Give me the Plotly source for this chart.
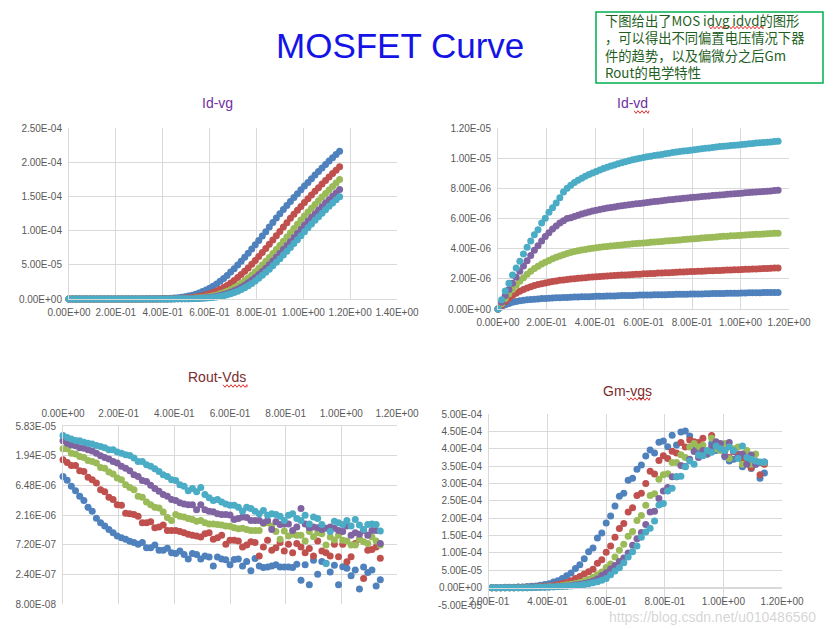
import math
import plotly.graph_objects as go

W, H = 838, 629          # target window
OFF = 8                  # the page body offsets the figure by 8 px
FW, FH = W - OFF, H - OFF
COLORS = ["#4F81BD", "#C0504D", "#9BBB59", "#8064A2", "#4BACC6"]
TICK_FONT = dict(family="Liberation Sans", size=10, color="#595959")
GRID = "#D9D9D9"

STEP = 0.015  # voltage sweep step (V)

# ---------------- Id-vg : Vg = 0 ... 1.155 V, Id in 1e-5 A ----------------
idvg_blue = [0] * 20 + [
    0.01, 0.01, 0.02, 0.02, 0.03, 0.04, 0.05, 0.07, 0.09, 0.12,
    0.16, 0.20, 0.26, 0.34, 0.43, 0.55, 0.70, 0.87, 1.08, 1.31,
    1.57, 1.87, 2.21, 2.59, 3.00, 3.45, 3.93, 4.43, 4.96, 5.52,
    6.10, 6.69, 7.30, 7.93, 8.56, 9.20, 9.85, 10.51, 11.17, 11.83,
    12.48, 13.08, 13.67, 14.25, 14.83, 15.40, 15.96, 16.51, 17.05, 17.59,
    18.12, 18.64, 19.15, 19.66, 20.16, 20.65, 21.13, 21.60]
idvg_red = [0] * 24 + [
    0.01, 0.01, 0.02, 0.02, 0.03, 0.04,
    0.06, 0.08, 0.10, 0.14, 0.17, 0.22, 0.29, 0.37, 0.48, 0.61,
    0.76, 0.95, 1.16, 1.40, 1.67, 1.98, 2.33, 2.71, 3.13, 3.58,
    4.05, 4.55, 5.08, 5.64, 6.20, 6.79, 7.39, 8.00, 8.61, 9.24,
    9.87, 10.51, 11.16, 11.79, 12.40, 12.99, 13.54, 14.10, 14.66, 15.21,
    15.75, 16.28, 16.80, 17.32, 17.83, 18.33, 18.82, 19.32]
idvg_green = [0] * 27 + [
    0.01, 0.01, 0.02,
    0.02, 0.03, 0.04, 0.06, 0.08, 0.10, 0.13, 0.17, 0.22, 0.29,
    0.37, 0.47, 0.59, 0.75, 0.93, 1.14, 1.37, 1.63, 1.94, 2.28,
    2.66, 3.06, 3.51, 3.97, 4.46, 4.98, 5.52, 6.08, 6.65, 7.23,
    7.83, 8.44, 9.05, 9.67, 10.30, 10.93, 11.55, 12.14, 12.71, 13.26,
    13.81, 14.36, 14.90, 15.42, 15.94, 16.46, 16.96, 17.46]
idvg_purple = [0] * 28 + [
    0.01, 0.01,
    0.02, 0.02, 0.03, 0.04, 0.05, 0.06, 0.08, 0.11, 0.15, 0.18,
    0.24, 0.31, 0.39, 0.50, 0.64, 0.79, 0.98, 1.19, 1.43, 1.70,
    2.01, 2.36, 2.73, 3.14, 3.58, 4.03, 4.51, 5.02, 5.55, 6.09,
    6.64, 7.22, 7.79, 8.37, 8.96, 9.56, 10.17, 10.77, 11.36, 11.90,
    12.44, 12.97, 13.50, 14.02, 14.52, 15.02, 15.51, 16.00]
idvg_cyan = [0] * 29 + [
    0.01,
    0.01, 0.02, 0.02, 0.03, 0.04, 0.04, 0.06, 0.08, 0.11, 0.14,
    0.18, 0.23, 0.30, 0.38, 0.48, 0.62, 0.77, 0.95, 1.15, 1.38,
    1.65, 1.94, 2.28, 2.64, 3.04, 3.46, 3.90, 4.36, 4.86, 5.37,
    5.89, 6.42, 6.98, 7.54, 8.10, 8.66, 9.25, 9.84, 10.41, 10.98,
    11.51, 12.03, 12.54, 13.05, 13.55, 14.03, 14.50, 14.96]

# ---------------- Id-vd : Vd = 0 ... 1.155 V, Id in 1e-6 A ----------------
idvd_blue = [
    0, 0.15, 0.28, 0.37, 0.44, 0.50, 0.54, 0.58, 0.61, 0.63,
    0.65, 0.67, 0.69, 0.70, 0.72, 0.73, 0.74, 0.75, 0.76, 0.77,
    0.78, 0.79, 0.80, 0.81, 0.82, 0.82, 0.83, 0.84, 0.85, 0.85,
    0.86, 0.87, 0.87, 0.88, 0.89, 0.89, 0.90, 0.90, 0.91, 0.92,
    0.92, 0.93, 0.93, 0.94, 0.94, 0.95, 0.95, 0.96, 0.96, 0.97,
    0.97, 0.98, 0.98, 0.99, 0.99, 1.00, 1.00, 1.01, 1.01, 1.02,
    1.02, 1.03, 1.03, 1.04, 1.04, 1.05, 1.05, 1.06, 1.06, 1.07,
    1.07, 1.08, 1.08, 1.09, 1.09, 1.10, 1.10, 1.10]
idvd_red = [
    0, 0.25, 0.50, 0.72, 0.90, 1.05, 1.18, 1.30, 1.40, 1.48,
    1.56, 1.62, 1.68, 1.73, 1.78, 1.82, 1.86, 1.90, 1.93, 1.96,
    1.99, 2.01, 2.04, 2.06, 2.08, 2.10, 2.12, 2.14, 2.16, 2.17,
    2.19, 2.20, 2.22, 2.23, 2.25, 2.26, 2.27, 2.29, 2.30, 2.31,
    2.33, 2.34, 2.35, 2.36, 2.38, 2.39, 2.40, 2.41, 2.42, 2.43,
    2.45, 2.46, 2.47, 2.48, 2.49, 2.50, 2.51, 2.52, 2.53, 2.54,
    2.55, 2.56, 2.57, 2.58, 2.59, 2.60, 2.61, 2.62, 2.63, 2.64,
    2.65, 2.66, 2.67, 2.68, 2.69, 2.70, 2.71, 2.72]
idvd_green = [
    0, 0.35, 0.70, 1.00, 1.30, 1.58, 1.84, 2.08, 2.30, 2.50,
    2.68, 2.84, 2.98, 3.10, 3.22, 3.33, 3.43, 3.52, 3.60, 3.68,
    3.75, 3.81, 3.86, 3.91, 3.95, 3.99, 4.03, 4.06, 4.09, 4.12,
    4.15, 4.18, 4.20, 4.23, 4.25, 4.28, 4.30, 4.32, 4.34, 4.36,
    4.38, 4.40, 4.42, 4.44, 4.46, 4.48, 4.50, 4.52, 4.54, 4.56,
    4.58, 4.60, 4.62, 4.64, 4.66, 4.68, 4.70, 4.72, 4.74, 4.76,
    4.78, 4.80, 4.82, 4.83, 4.85, 4.86, 4.88, 4.89, 4.91, 4.92,
    4.94, 4.95, 4.96, 4.98, 4.99, 5.00, 5.02, 5.03]
idvd_purple = [
    0, 0.45, 0.90, 1.30, 1.70, 2.10, 2.50, 2.85, 3.20, 3.55,
    3.90, 4.20, 4.50, 4.80, 5.05, 5.30, 5.50, 5.70, 5.85, 6.00,
    6.05, 6.14, 6.22, 6.30, 6.37, 6.43, 6.49, 6.55, 6.60, 6.65,
    6.69, 6.73, 6.77, 6.81, 6.84, 6.88, 6.91, 6.94, 6.97, 7.00,
    7.03, 7.06, 7.09, 7.12, 7.15, 7.18, 7.21, 7.24, 7.26, 7.29,
    7.31, 7.34, 7.36, 7.39, 7.41, 7.43, 7.46, 7.48, 7.50, 7.52,
    7.54, 7.56, 7.58, 7.60, 7.62, 7.64, 7.66, 7.68, 7.70, 7.72,
    7.74, 7.75, 7.77, 7.79, 7.81, 7.83, 7.85, 7.87]
idvd_cyan = [
    0, 0.62, 1.20, 1.70, 2.26, 2.72, 3.17, 3.65, 4.10, 4.50,
    4.92, 5.25, 5.70, 6.02, 6.42, 6.71, 7.02, 7.37, 7.75, 8.00,
    8.20, 8.38, 8.53, 8.67, 8.80, 8.92, 9.02, 9.12, 9.22, 9.31,
    9.40, 9.48, 9.55, 9.63, 9.70, 9.77, 9.83, 9.89, 9.95, 10.00,
    10.05, 10.09, 10.13, 10.17, 10.21, 10.25, 10.29, 10.33, 10.37, 10.41,
    10.44, 10.47, 10.50, 10.53, 10.56, 10.59, 10.62, 10.65, 10.68, 10.71,
    10.74, 10.77, 10.79, 10.81, 10.84, 10.86, 10.88, 10.90, 10.93, 10.95,
    10.97, 11.00, 11.02, 11.04, 11.06, 11.08, 11.10, 11.12]

# ---------------- Rout-Vds : Vds = 0 ... 1.14 V, values in 1e-7 ----------------
rout_blue = [
    90.1, 78.1, 62.7, 53.2, 43.1, 37.0, 28.7, 24.9, 19.1, 16.2,
    14.4, 12.6, 11.2, 9.9, 9.27, 8.78, 8.2, 7.78, 7.28, 7.78,
    6.45, 6.45, 7.13, 5.84, 5.84, 6.32, 5.35, 5.18, 5.69, 5.02,
    4.22, 5.18, 5.02, 4.22, 4.74, 4.58, 3.26, 4.58, 4.22, 4.11,
    3.41, 4.16, 4.22, 3.26, 3.87, 2.74, 4.30, 3.26, 3.09, 3.16,
    3.26, 3.41, 3.16, 3.16, 3.16, 3.09, 3.48, 1.93, 3.41, 1.63,
    4.06, 2.40, 3.87, 3.62, 2.62, 3.37, 1.63, 3.17, 3.02, 2.27,
    2.83, 1.39, 3.16, 2.56, 2.83, 1.56, 1.97]
rout_red = [
    166.7, 151.0, 135.2, 135.2, 111.0, 108.6, 87.2, 79.8, 70.8, 54.9,
    50.9, 41.8, 38.3, 31.7, 31.0, 23.1, 22.6, 22.1, 20.7, 16.2,
    16.2, 16.8, 13.5, 13.9, 14.9, 12.2, 12.2, 12.2, 11.7, 11.2,
    10.6, 10.2, 9.9, 9.58, 10.8, 11.2, 8.78, 9.27, 10.2, 7.28,
    8.49, 8.49, 8.22, 6.60, 7.12, 8.04, 7.78, 4.74, 6.60, 8.49,
    5.84, 6.45, 7.78, 5.72, 7.28, 5.35, 7.52, 6.60, 5.35, 6.24,
    4.74, 8.22, 5.72, 5.35, 4.74, 7.28, 4.59, 7.28, 3.81, 4.59,
    7.52, 8.78, 2.06, 5.84, 6.04, 6.60, 4.34]
rout_green = [
    250.4, 250.4, 212.3, 207.6, 187.9, 182.0, 163.0, 156.0, 147.7, 125.3,
    122.5, 106.3, 98.4, 85.3, 79.8, 66.2, 60.0, 55.0, 43.1, 41.8,
    35.0, 31.7, 28.7, 28.1, 24.1, 19.6, 17.7, 22.1, 20.7, 20.0,
    18.9, 18.3, 17.2, 17.7, 16.2, 15.5, 15.5, 15.2, 14.9, 14.4,
    14.2, 13.5, 13.0, 13.2, 12.6, 12.2, 12.2, 12.2, 15.7, 16.2,
    14.4, 11.7, 8.78, 11.9, 9.9, 10.6, 10.2, 10.2, 8.22, 11.7,
    9.68, 11.2, 10.8, 7.12, 9.58, 8.58, 10.2, 8.49, 8.22, 7.12,
    7.12, 8.78, 8.04, 7.52, 9.58, 8.22, 7.12]
rout_purple = [
    336.7, 308.3, 288.7, 279.4, 261.5, 255.8, 242.2, 231.7, 212.3, 194.4,
    182.0, 172.3, 156.0, 147.7, 130.9, 122.5, 111.0, 96.2, 90.1, 77.2,
    74.8, 64.8, 57.4, 52.0, 46.1, 43.1, 38.3, 37.0, 33.9, 32.4,
    31.7, 31.7, 26.3, 31.7, 26.3, 24.9, 24.4, 22.6, 22.1, 22.1,
    21.6, 18.3, 18.9, 20.0, 19.6, 17.7, 17.7, 17.7, 16.2, 17.7,
    12.6, 16.8, 15.2, 15.5, 15.5, 12.2, 13.8, 27.5, 15.5, 13.5,
    13.8, 13.5, 12.6, 13.2, 13.8, 13.2, 12.2, 11.7, 14.4, 10.2,
    11.2, 10.6, 12.2, 10.2, 12.2, 12.2, 7.52]
rout_cyan = [
    410.4, 380.0, 359.6, 340.4, 336.7, 318.8, 308.3, 298.4, 282.5, 273.3,
    261.5, 242.2, 242.2, 221.8, 212.3, 201.0, 196.5, 178.1, 156.0, 156.0,
    138.3, 130.9, 120.0, 108.6, 96.2, 90.1, 79.8, 77.2, 66.2, 62.7,
    53.2, 57.4, 50.9, 60.0, 46.1, 40.9, 37.0, 38.3, 35.0, 32.4,
    31.0, 31.0, 28.7, 24.9, 28.7, 27.5, 24.9, 22.6, 25.5, 21.4,
    22.6, 22.1, 20.7, 17.7, 21.4, 22.6, 18.9, 17.7, 21.4, 15.5,
    20.0, 18.9, 15.2, 3.6, 11.7, 17.2, 16.2, 15.2, 17.7, 14.4,
    18.3, 14.9, 12.6, 15.2, 15.5, 15.2, 11.9]

# ---------------- Gm-vgs : Vgs = 0.195 ... 1.14 V, Gm in 1e-4 ----------------
GM_START = 0.195
gm_blue = [
    0, 0, 0, 0, 0.01, 0.01, 0.01, 0.02, 0.02, 0.03,
    0.04, 0.05, 0.07, 0.09, 0.11, 0.16, 0.20, 0.26, 0.34, 0.42,
    0.55, 0.66, 0.83, 1.03, 1.14, 1.43, 1.57, 1.86, 2.06, 2.35,
    2.63, 2.72, 3.09, 3.15, 3.41, 3.53, 3.79, 3.96, 3.88, 4.19,
    4.22, 4.06, 4.39, 4.11, 4.48, 4.51, 4.37, 4.05, 3.98, 3.92,
    3.85, 4.15, 3.95, 4.05, 3.77, 3.65, 3.70, 3.85, 3.48, 3.60,
    3.43, 3.55, 3.15, 3.30]
gm_red = [
    0, 0, 0, 0, 0, 0, 0, 0.01, 0.01, 0.01,
    0.02, 0.02, 0.03, 0.04, 0.05, 0.07, 0.09, 0.12, 0.15, 0.20,
    0.26, 0.32, 0.39, 0.46, 0.53, 0.70, 0.80, 1.02, 1.20, 1.45,
    1.70, 1.85, 2.18, 2.30, 2.65, 2.72, 3.00, 3.35, 3.27, 3.66,
    3.80, 3.72, 3.93, 3.88, 4.18, 4.05, 4.25, 4.20, 4.18, 4.30,
    3.90, 4.38, 4.00, 4.05, 3.95, 3.75, 3.92, 3.82, 3.68, 3.82,
    3.45, 3.65, 3.25, 3.55]
gm_green = [
    0, 0, 0, 0, 0, 0, 0, 0, 0, 0.01,
    0.01, 0.01, 0.02, 0.02, 0.03, 0.04, 0.05, 0.06, 0.08, 0.10,
    0.12, 0.15, 0.19, 0.24, 0.30, 0.37, 0.45, 0.58, 0.68, 0.88,
    1.08, 1.25, 1.48, 1.62, 1.93, 2.08, 2.37, 2.65, 2.70, 3.12,
    3.25, 3.28, 3.60, 3.60, 3.83, 3.75, 4.05, 4.15, 4.05, 4.10,
    3.85, 4.30, 4.00, 3.95, 4.15, 3.72, 4.00, 4.05, 3.55, 3.95,
    3.55, 3.85, 3.60, 3.60]
gm_purple = [
    0, 0, 0, 0, 0, 0, 0, 0, 0, 0,
    0.01, 0.01, 0.01, 0.02, 0.02, 0.03, 0.03, 0.04, 0.05, 0.06,
    0.08, 0.10, 0.12, 0.15, 0.19, 0.25, 0.35, 0.43, 0.54, 0.64,
    0.75, 0.85, 1.00, 1.22, 1.41, 1.59, 1.82, 2.18, 2.20, 2.57,
    2.78, 2.88, 3.19, 3.19, 3.52, 3.49, 3.70, 3.92, 3.75, 3.95,
    3.85, 4.05, 4.20, 4.15, 3.80, 4.18, 3.92, 3.75, 3.85, 3.55,
    3.82, 3.55, 3.60, 3.62]
gm_cyan = [
    0, 0, 0, 0, 0, 0, 0, 0, 0, 0,
    0, 0.01, 0.01, 0.01, 0.02, 0.02, 0.03, 0.03, 0.04, 0.05,
    0.06, 0.07, 0.09, 0.11, 0.14, 0.17, 0.21, 0.26, 0.37, 0.48,
    0.57, 0.72, 0.88, 1.03, 1.20, 1.45, 1.60, 1.71, 1.92, 2.38,
    2.42, 2.78, 2.86, 3.19, 3.21, 3.48, 3.65, 3.55, 3.82, 3.80,
    3.95, 3.90, 4.08, 4.00, 3.95, 4.05, 3.95, 3.72, 4.08, 3.75,
    3.70, 3.65, 3.62, 3.62]

# ---------------- tick values ----------------
idvg_xticks = [0, 0.2, 0.4, 0.6, 0.8, 1.0, 1.2, 1.4]
idvg_yticks = [0, 5e-5, 1e-4, 1.5e-4, 2e-4, 2.5e-4]
idvd_xticks = [0, 0.2, 0.4, 0.6, 0.8, 1.0, 1.2]
idvd_yticks = [0, 2e-6, 4e-6, 6e-6, 8e-6, 1e-5, 1.2e-5]
rout_xticks = [0, 0.2, 0.4, 0.6, 0.8, 1.0, 1.2]
rout_yticks = [8.0e-8, 2.4e-7, 7.2e-7, 2.16e-6, 6.48e-6, 1.944e-5, 5.832e-5]
gm_xticks = [0.2, 0.4, 0.6, 0.8, 1.0, 1.2]
gm_yticks = [-5e-5, 0, 5e-5, 1e-4, 1.5e-4, 2e-4, 2.5e-4, 3e-4, 3.5e-4, 4e-4, 4.5e-4, 5e-4]


def sci(v):
    return "%.2E" % v


def xs(n, start=0.0):
    return [round(start + STEP * i, 4) for i in range(n)]


def px(x):   # window pixel x -> paper fraction
    return (x - OFF) / FW


def py(y):   # window pixel y -> paper fraction
    return 1 - (y - OFF) / FH


def dom_x(l, r):
    return [px(l), px(r)]


def dom_y(t, b):
    return [py(b), py(t)]


fig = go.Figure()


def add_series(series, scale, ax, start=0.0):
    for vals, col in zip(series, COLORS):
        fig.add_trace(go.Scatter(
            x=xs(len(vals), start), y=[v * scale for v in vals],
            mode="markers", marker=dict(color=col, size=7, line=dict(width=0)),
            xaxis="x" + ax, yaxis="y" + ax, cliponaxis=False, showlegend=False,
            hoverinfo="x+y"))


add_series([idvg_blue, idvg_red, idvg_green, idvg_purple, idvg_cyan], 1e-5, "")
add_series([idvd_blue, idvd_red, idvd_green, idvd_purple, idvd_cyan], 1e-6, "2")
add_series([rout_blue, rout_red, rout_green, rout_purple, rout_cyan], 1e-7, "3")
add_series([gm_blue, gm_red, gm_green, gm_purple, gm_cyan], 1e-4, "4", GM_START)


def axis(domain, rng, ticks, **kw):
    d = dict(domain=domain, range=rng, tickmode="array", tickvals=ticks,
             ticktext=[sci(t) for t in ticks], showgrid=True, gridcolor=GRID,
             gridwidth=1, showline=True, linecolor=GRID, linewidth=1,
             zeroline=False, ticks="", tickfont=TICK_FONT, ticklabelstandoff=4,
             automargin=False, fixedrange=True)
    d.update(kw)
    return d


# Gm chart: horizontal axis crosses at y = 0
gm_dom = dom_y(414, 605)
gm_ymin, gm_ymax = -5e-5, 5e-4
gm_x_pos = gm_dom[0] + (0 - gm_ymin) / (gm_ymax - gm_ymin) * (gm_dom[1] - gm_dom[0])

fig.update_layout(
    width=FW, height=FH,
    margin=dict(l=0, r=0, t=0, b=0, pad=0, autoexpand=False),
    paper_bgcolor="white", plot_bgcolor="white", showlegend=False,
    xaxis=axis(dom_x(69, 397), [0, 1.4], idvg_xticks, anchor="y"),
    yaxis=axis(dom_y(128, 299), [0, 2.5e-4], idvg_yticks, anchor="x"),
    xaxis2=axis(dom_x(498, 789), [0, 1.2], idvd_xticks, anchor="y2"),
    yaxis2=axis(dom_y(128, 309), [0, 1.2e-5], idvd_yticks, anchor="x2"),
    xaxis3=axis(dom_x(63, 397), [0, 1.2], rout_xticks, anchor="y3", side="top"),
    yaxis3=axis(dom_y(426, 604), [math.log10(8e-8), math.log10(5.832e-5)],
                rout_yticks, anchor="x3", type="log"),
    xaxis4=axis(dom_x(489, 782), [0.2, 1.2], gm_xticks, anchor="free",
                position=gm_x_pos),
    yaxis4=axis(gm_dom, [gm_ymin, gm_ymax], gm_yticks, anchor="x4"),
)


def px_annot(text, x, y, size, color, family="Liberation Sans", xanchor="center",
             align="center"):
    fig.add_annotation(text=text, x=px(x), y=py(y), xref="paper", yref="paper",
                       xanchor=xanchor, yanchor="middle", showarrow=False,
                       align=align,
                       font=dict(size=size, color=color, family=family))


def squiggle(x0, x1, y, amp=1.3, period=4.0):
    pts = []
    n = int((x1 - x0) / (period / 2)) + 1
    for k in range(n + 1):
        xx = min(x0 + k * period / 2, x1)
        yy = y + (amp if k % 2 else -amp)
        pts.append("%s%.5f,%.5f" % ("M" if k == 0 else "L", px(xx), py(yy)))
    fig.add_shape(type="path", xref="paper", yref="paper", path=" ".join(pts),
                  line=dict(color="#E03030", width=1))


px_annot("MOSFET Curve", 400, 45, 35, "#1414E6")
px_annot("Id-vg", 218, 103, 14, "#7030A0")
px_annot("Id-vd", 632, 103, 14, "#7030A0")
px_annot("Rout-Vds", 217, 377, 14, "#7B2C2C")
px_annot("Gm-vgs", 627, 391, 14, "#7B2C2C")
squiggle(634, 649, 112)
squiggle(223, 247, 386)
squiggle(627, 650, 399)

# note box
fig.add_shape(type="rect", xref="paper", yref="paper",
              x0=px(596), x1=px(823), y0=py(83), y1=py(12),
              line=dict(color="#00B050", width=1.5), fillcolor="white", layer="below")
note_lines = ["下图给出了MOS idvg idvd的图形",
              "，可以得出不同偏置电压情况下器",
              "件的趋势，以及偏微分之后Gm",
              "Rout的电学特性"]
px_annot("<br>".join(note_lines), 603, 46, 13.3, "#1E5E1E",
         family="Noto Sans CJK SC", xanchor="left", align="left")
squiggle(709, 763, 27.5)

# watermark
px_annot("https://blog.csdn.net/u010486560", 712, 617, 14, "rgba(185,185,185,0.6)")

fig.write_html("out.html")
